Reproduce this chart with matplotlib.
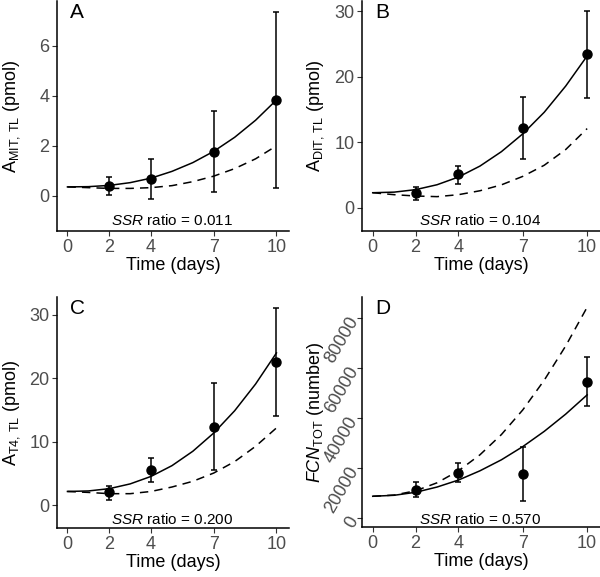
import numpy as np
import matplotlib
matplotlib.use('Agg')
from matplotlib import pyplot as plt

plt.rcParams['font.family'] = ['Liberation Sans', 'DejaVu Sans']
plt.rcParams['mathtext.fontset'] = 'custom'
plt.rcParams['mathtext.rm'] = 'Liberation Sans'
plt.rcParams['mathtext.it'] = 'Liberation Sans:italic'
plt.rcParams['mathtext.bf'] = 'Liberation Sans:bold'

#observed time points
days = [2, 4, 7, 10]
#model curve time grid (values at whole days)
curve_days = [0, 1, 2, 3, 4, 5, 6, 7, 8, 9, 10]

#panel A - MIT
a_mean = [0.41, 0.66, 1.77, 3.83]
a_lo = [0.05, -0.14, 0.15, 0.32]
a_hi = [0.75, 1.47, 3.40, 7.36]
a_fit = [0.36, 0.37, 0.42, 0.53, 0.71, 0.98, 1.33, 1.78, 2.34, 3.02, 3.83]
a_alt = [0.36, 0.33, 0.30, 0.30, 0.33, 0.41, 0.57, 0.79, 1.09, 1.48, 2.00]

#panel B - DIT
b_mean = [2.3, 5.1, 12.2, 23.5]
b_lo = [1.2, 3.7, 7.5, 16.8]
b_hi = [3.2, 6.4, 17.0, 30.0]
b_fit = [2.3, 2.39, 2.77, 3.52, 4.70, 6.37, 8.57, 11.3, 14.6, 18.6, 23.2]
b_alt = [2.3, 2.0, 1.8, 1.7, 2.0, 2.6, 3.5, 4.8, 6.5, 8.9, 12.1]

#panel C - T4
c_mean = [2.1, 5.6, 12.4, 22.5]
c_lo = [0.9, 3.7, 5.5, 14.0]
c_hi = [3.0, 7.5, 19.3, 31.0]
c_fit = [2.2, 2.28, 2.64, 3.39, 4.57, 6.26, 8.53, 11.4, 14.9, 19.1, 24.0]
c_alt = [2.2, 2.05, 1.85, 1.85, 2.2, 2.9, 3.8, 5.1, 6.9, 9.3, 12.2]

#panel D - follicle cell number
d_mean = [11300, 18100, 17500, 54600]
d_lo = [8300, 14400, 6900, 44900]
d_hi = [14400, 21900, 28400, 64400]
d_fit = [8700, 9100, 10300, 12400, 15200, 18900, 23300, 28600, 34700, 41600, 49300]
d_alt = [8700, 9200, 10900, 14100, 18900, 25300, 33400, 43300, 55200, 68900, 84400]

panels = [
    ('A', r'$\mathrm{A}_{\mathrm{MIT,\,TL}}$ (pmol)', a_mean, a_lo, a_hi, a_fit, a_alt, '0.011', -1.0, (-1.40, 7.78), [0, 2, 4, 6]),
    ('B', r'$\mathrm{A}_{\mathrm{DIT,\,TL}}$ (pmol)', b_mean, b_lo, b_hi, b_fit, b_alt, '0.104', -2.0, (-3.55, 31.6), [0, 10, 20, 30]),
    ('C', r'$\mathrm{A}_{\mathrm{T4,\,TL}}$ (pmol)', c_mean, c_lo, c_hi, c_fit, c_alt, '0.200', -2.25, (-3.55, 32.8), [0, 10, 20, 30]),
    ('D', r'$\mathit{FCN}_{\mathrm{TOT}}$ (number)', d_mean, d_lo, d_hi, d_fit, d_alt, '0.570', -700, (-3600, 88500), [0, 20000, 40000, 60000, 80000]),
]

#axes boxes in pixels: left, right, top, bottom
W, H = 600, 577
boxes = [(57, 289, 1, 231), (362, 600, 1, 231), (57, 289, 297, 528), (362, 600, 297, 527)]

fig = plt.figure(figsize=(6, 5.77), dpi=100)
for (letter, ylab, mean, lo, hi, fit, alt, ssr, ssr_y, ylim, yt), (l, r, t, b) in zip(panels, boxes):
    ax = fig.add_axes([l / W, 1 - b / H, (r - l) / W, (b - t) / H])
    ax.plot(curve_days, fit, color='black', lw=1.1)
    ax.plot(curve_days, alt, color='black', lw=1.1, linestyle=(0, (5.5, 4)))
    mean = np.array(mean)
    yerr = [mean - np.array(lo), np.array(hi) - mean]
    ax.errorbar(days, mean, yerr=yerr, fmt='o', color='black', ms=6.5,
                elinewidth=1.1, capsize=2.2, capthick=1.1)
    ax.set_xlim(-0.5, 10.6)
    ax.set_ylim(*ylim)
    ax.set_xticks([0, 2, 4, 7, 10])
    ax.set_yticks(yt)
    for s in ['top', 'right']:
        ax.spines[s].set_visible(False)
    for s in ['left', 'bottom']:
        ax.spines[s].set_linewidth(1.1)
    ax.tick_params(length=3.5, width=0.8, color='#333333', labelcolor='#4D4D4D',
                   labelsize=13, pad=2)
    ax.set_xlabel('Time (days)', fontsize=13, labelpad=1)
    ax.set_ylabel(ylab, fontsize=13)
    ax.text(5, ssr_y, r'$\mathit{SSR}$ ratio = ' + ssr, ha='center', va='center', fontsize=11)
    ax.text(0.056, 0.99, letter, transform=ax.transAxes, ha='left', va='top', fontsize=15)
    if letter == 'D':
        for lab in ax.get_yticklabels():
            lab.set_rotation(60)
            lab.set_ha('right')
            lab.set_va('center')
            lab.set_rotation_mode('anchor')
    ax.yaxis.set_label_coords(-0.15, 0.5)

plt.savefig('out.png', dpi=100)
